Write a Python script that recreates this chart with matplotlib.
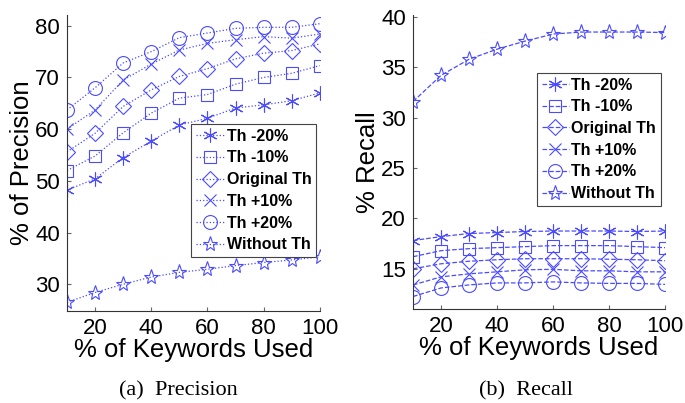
import matplotlib
matplotlib.use('Agg')
import matplotlib.pyplot as plt

plt.rcParams['font.family'] = ['Liberation Sans', 'DejaVu Sans']

x = [10, 20, 30, 40, 50, 60, 70, 80, 90, 100]
labels = ['Th -20%', 'Th -10%', 'Original Th', 'Th +10%', 'Th +20%', 'Without Th']

prec_m20 = [48.2, 50.4, 54.5, 57.7, 60.8, 62.1, 64.1, 64.7, 65.5, 67.0]
prec_m10 = [52.0, 54.8, 59.3, 63.1, 66.0, 66.7, 68.7, 70.0, 70.8, 72.3]
prec_orig = [55.6, 59.2, 64.4, 67.6, 70.2, 71.7, 73.6, 74.7, 75.2, 76.5]
prec_p10 = [60.0, 63.7, 69.5, 72.6, 75.3, 76.6, 77.3, 77.9, 77.6, 78.4]
prec_p20 = [63.7, 68.0, 72.8, 75.0, 77.7, 78.6, 79.5, 79.7, 79.7, 80.4]
prec_without = [26.5, 28.4, 30.0, 31.4, 32.3, 32.9, 33.6, 34.2, 34.7, 35.3]

rec_m20 = [17.8, 18.2, 18.5, 18.6, 18.7, 18.75, 18.75, 18.75, 18.7, 18.75]
rec_m10 = [16.2, 16.8, 17.0, 17.1, 17.2, 17.3, 17.3, 17.3, 17.2, 17.1]
rec_orig = [15.0, 15.5, 15.75, 15.9, 16.0, 16.0, 16.0, 15.95, 15.9, 15.8]
rec_p10 = [13.4, 14.2, 14.5, 14.7, 14.9, 14.95, 14.8, 14.8, 14.7, 14.7]
rec_p20 = [12.25, 13.1, 13.4, 13.6, 13.6, 13.7, 13.6, 13.55, 13.55, 13.45]
rec_without = [31.6, 34.2, 35.8, 36.8, 37.6, 38.3, 38.5, 38.5, 38.5, 38.45]

markers = [(6, 2, 0), 's', 'D', 'x', 'o', '*']
msizes = [10, 9, 8.5, 8, 10, 11]
col = '#4b4bff'

fig = plt.figure(figsize=(6.85, 4.03), dpi=100)
ax1 = fig.add_axes([0.0978, 0.228, 0.369, 0.735])
ax2 = fig.add_axes([0.603, 0.233, 0.368, 0.730])

prec = [prec_m20, prec_m10, prec_orig, prec_p10, prec_p20, prec_without]
rec = [rec_m20, rec_m10, rec_orig, rec_p10, rec_p20, rec_without]

for i in range(6):
    ax1.plot(x, prec[i], linestyle=':', color=col, lw=0.9, marker=markers[i],
             ms=msizes[i], mfc='none', mec=col, mew=0.8, label=labels[i])
    ax2.plot(x, rec[i], linestyle='--', color=col, lw=0.9, marker=markers[i],
             ms=msizes[i], mfc='none', mec=col, mew=0.8, label=labels[i])

for ax in (ax1, ax2):
    ax.set_xlim(10, 100)
    ax.set_xticks([20, 40, 60, 80, 100])
    ax.spines['top'].set_visible(False)
    ax.spines['right'].set_visible(False)
    ax.spines['left'].set_color('#333333')
    ax.spines['bottom'].set_color('#333333')
    ax.tick_params(direction='in', length=3, labelsize=16, color='#666666', pad=5)
    ax.set_xlabel('% of Keywords Used', fontsize=18.5, labelpad=-1)
    ax.patch.set_alpha(0)

ax1.set_ylim(24.8, 82.1)
ax1.set_yticks([30, 40, 50, 60, 70, 80])
ax1.set_ylabel('% of Precision', fontsize=18.5, labelpad=1)

ax2.set_ylim(11.0, 40.2)
ax2.set_yticks([15, 20, 25, 30, 35, 40])
ax2.set_ylabel('% Recall', fontsize=18.5, labelpad=1)

leg_kw = dict(loc='upper left', fancybox=False, framealpha=1, edgecolor='#444444',
              prop={'weight': 'bold', 'size': 11.5}, labelspacing=0.42,
              handletextpad=0.15, borderpad=0.3, borderaxespad=0)
l1 = ax1.legend(bbox_to_anchor=(0.49, 0.632), handlelength=1.8, **leg_kw)
l2 = ax2.legend(bbox_to_anchor=(0.492, 0.803), handlelength=1.7, **leg_kw)
for l in (l1, l2):
    l.get_frame().set_linewidth(0.8)

fig.text(0.261, 0.03, '(a)  Precision', family='Liberation Serif', fontsize=16,
         ha='center', va='center')
fig.text(0.768, 0.03, '(b)  Recall', family='Liberation Serif', fontsize=16,
         ha='center', va='center')

fig.savefig('out.png', dpi=100)
